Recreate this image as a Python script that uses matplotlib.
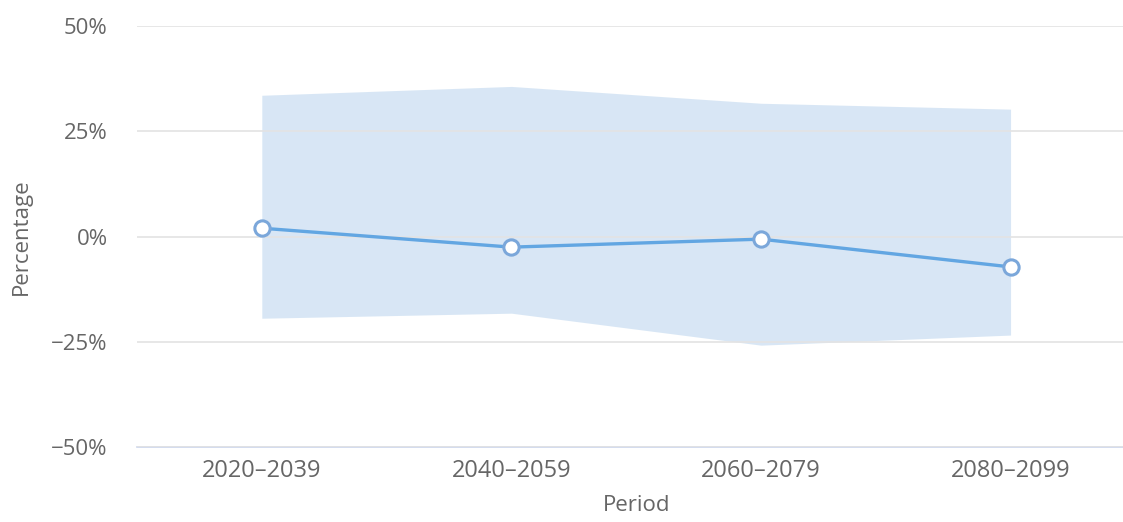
import matplotlib.pyplot as plt
from matplotlib.ticker import FuncFormatter

periods = ["2020-2039", "2040-2059", "2060-2079", "2080-2099"]
median = [2.0, -2.5, -0.6, -7.2]
upper = [33.6, 35.7, 31.7, 30.3]
lower = [-19.4, -18.2, -25.8, -23.4]
y_ticks = [-50, -25, 0, 25, 50]

plt.rcParams['font.family'] = ['Open Sans', 'DejaVu Sans']

fig = plt.figure(figsize=(11.23, 5.22), dpi=100)
ax = fig.add_axes([0.122, 0.1437, 0.889, 0.806])

x = list(range(len(periods)))
ax.fill_between(x, lower, upper, color="#c4daf0", alpha=0.65, linewidth=0, zorder=1)
ax.plot(x, median, color="#62a6e2", linewidth=2.4, zorder=3,
        marker="o", markersize=11, markerfacecolor="white",
        markeredgecolor="#7ba7da", markeredgewidth=2.2)

ax.set_xlim(-0.5, 3.5)
ax.set_ylim(-50, 50)
ax.set_yticks(y_ticks)
ax.yaxis.set_major_formatter(FuncFormatter(lambda v, p: f"{int(v)}%".replace("-", "\u2212")))
ax.set_xticks(x)
ax.set_xticklabels([p.replace("-", "\u2013") for p in periods])

ax.grid(axis="y", color="#e3e3e3", linewidth=1.2, zorder=0)
ax.set_axisbelow(False)
for s in ["top", "right", "left"]:
    ax.spines[s].set_visible(False)
ax.spines["bottom"].set_color("#ccd6eb")
ax.spines["bottom"].set_linewidth(1.2)
ax.tick_params(length=0, colors="#666666")
ax.tick_params(axis="y", pad=21, labelsize=16)
ax.tick_params(axis="x", pad=9, labelsize=17)

ax.set_xlabel("Period", fontsize=16, color="#666666", labelpad=8)
ax.set_ylabel("Percentage", fontsize=16, color="#666666", labelpad=14)

fig.savefig("out.png", dpi=100)
